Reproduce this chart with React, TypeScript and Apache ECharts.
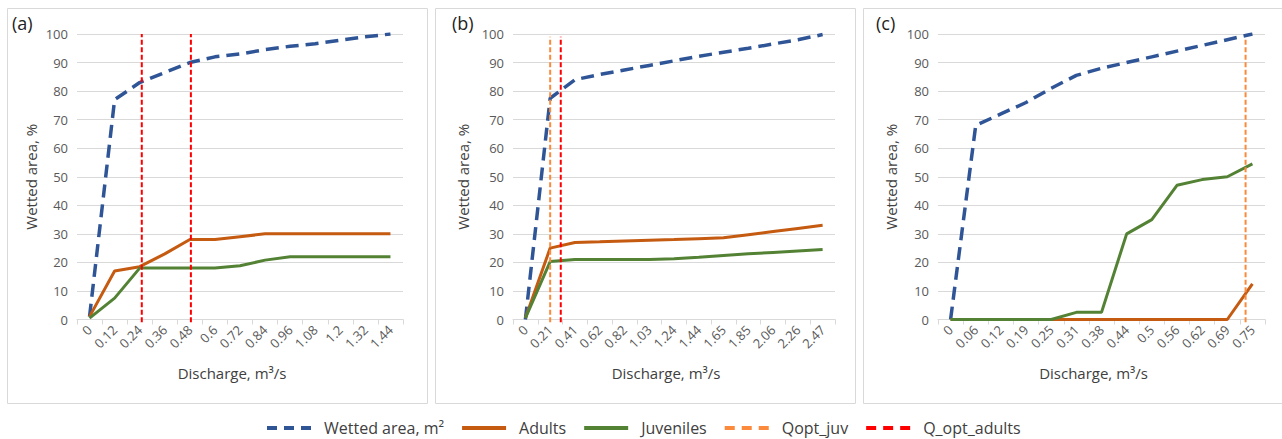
import React, { useEffect, useRef } from 'react';
import * as echarts from 'echarts';

// ---- data ----
const catsA = ['0', '0.12', '0.24', '0.36', '0.48', '0.6', '0.72', '0.84', '0.96', '1.08', '1.2', '1.32', '1.44'];
const wettedA = [1, 77, 83, 86.5, 90, 92, 93, 94.5, 95.7, 96.6, 97.8, 99, 100];
const adultsA = [1, 17, 18.5, 23, 28, 28, 29, 30, 30, 30, 30, 30, 30];
const juvA = [0.5, 7.5, 18, 18, 18, 18, 18.8, 20.8, 22, 22, 22, 22, 22];
const qJuvA: number[] = [];
const qAdultsA = [0.25, 0.485];

const catsB = ['0', '0.21', '0.41', '0.62', '0.82', '1.03', '1.24', '1.44', '1.65', '1.85', '2.06', '2.26', '2.47'];
const wettedB = [0, 77.5, 84, 85.8, 87.4, 89, 90.6, 92.2, 93.6, 95, 96.5, 98, 99.8];
const adultsB = [0.5, 25, 27, 27.2, 27.5, 27.8, 28, 28.3, 28.6, 29.7, 30.8, 31.9, 33];
const juvB = [0.5, 20.3, 21, 21, 21, 21, 21.3, 21.8, 22.4, 23, 23.5, 24, 24.5];
const qJuvB = [0.206];
const qAdultsB = [0.294];

const catsC = ['0', '0.06', '0.12', '0.19', '0.25', '0.31', '0.38', '0.44', '0.5', '0.56', '0.62', '0.69', '0.75'];
const wettedC = [0, 68, 72, 76, 81, 85.5, 88, 90, 92, 94, 96, 98, 100];
const adultsC = [0, 0, 0, 0, 0, 0, 0, 0, 0, 0, 0, 0, 12.5];
const juvC = [0, 0, 0, 0, 0, 2.5, 2.5, 30, 35, 47, 49, 50, 54.5];
const qJuvC = [0.733];
const qAdultsC: number[] = [];

const vTop = [100, 99, 98];
const vBottom = -1;

const panelLabels = ['(a)', '(b)', '(c)'];
const yTicks = [0, 100, 10];

// ---- layout / style ----
const FONT = 'Open Sans';
const C_WET = '#2f5597';
const C_AD = '#c55a11';
const C_JUV = '#548235';
const C_QJ = '#fb8a3c';
const C_QA = '#ff0000';

const panels = [
  { cats: catsA, wet: wettedA, ad: adultsA, juv: juvA, qj: qJuvA, qa: qAdultsA, left: 77, width: 326, frameX: 7, ygap: 39, labelX: 12 },
  { cats: catsB, wet: wettedB, ad: adultsB, juv: juvB, qj: qJuvB, qa: qAdultsB, left: 513, width: 322, frameX: 435, ygap: 43, labelX: 452 },
  { cats: catsC, wet: wettedC, ad: adultsC, juv: juvC, qj: qJuvC, qa: qAdultsC, left: 938, width: 327, frameX: 863, ygap: 40, labelX: 876 },
];

function buildOption() {
  const grids: any[] = [];
  const xAxes: any[] = [];
  const yAxes: any[] = [];
  const series: any[] = [];
  const graphics: any[] = [];

  panels.forEach((p, i) => {
    graphics.push({
      type: 'rect', z: -10, silent: true,
      shape: { x: p.frameX + 0.5, y: 8.5, width: 420, height: 395 },
      style: { fill: '#ffffff', stroke: '#d9d9d9', lineWidth: 1 },
    });
    graphics.push({
      type: 'text', left: p.labelX, top: 14,
      style: { text: panelLabels[i], font: `18px "${FONT}"`, fill: '#222222' },
    });

    grids.push({ left: p.left, top: 34, width: p.width, height: 285.5, containLabel: false });

    xAxes.push({
      type: 'category', gridIndex: i, data: p.cats, boundaryGap: true,
      name: 'Discharge, m³/s', nameLocation: 'middle', nameGap: 46,
      nameTextStyle: { fontFamily: FONT, fontSize: 15, color: '#404040', padding: [0, 16, 0, 0] },
      axisLine: { lineStyle: { color: '#d9d9d9', width: 1 } },
      axisTick: { show: true, length: 5, lineStyle: { color: '#d9d9d9' } },
      axisLabel: { rotate: 45, interval: 0, fontFamily: FONT, fontSize: 13, color: '#595959', margin: 8 },
      splitLine: { show: false },
    });

    const step = parseFloat(p.cats[p.cats.length - 1]) / (p.cats.length - 1);
    xAxes.push({
      type: 'value', gridIndex: i, show: false,
      min: -0.5 * step, max: (p.cats.length - 0.5) * step,
      splitLine: { show: false },
    });

    yAxes.push({
      type: 'value', gridIndex: i, min: yTicks[0], max: yTicks[1], interval: yTicks[2],
      name: 'Wetted area, %', nameLocation: 'middle', nameRotate: 90, nameGap: p.ygap,
      nameTextStyle: { fontFamily: FONT, fontSize: 15, color: '#404040' },
      axisLine: { show: false }, axisTick: { show: false },
      axisLabel: { fontFamily: FONT, fontSize: 13, color: '#595959', margin: 9 },
      splitLine: { lineStyle: { color: '#d9d9d9', width: 1 } },
    });

    const xi = i * 2;
    series.push({
      name: 'Wetted area, m²', type: 'line', xAxisIndex: xi, yAxisIndex: i, data: p.wet,
      symbol: 'none', lineStyle: { color: C_WET, width: 3.5, type: [13, 7] }, itemStyle: { color: C_WET }, z: 2,
    });
    series.push({
      name: 'Adults', type: 'line', xAxisIndex: xi, yAxisIndex: i, data: p.ad,
      symbol: 'none', lineStyle: { color: C_AD, width: 3 }, itemStyle: { color: C_AD }, z: 3,
    });
    series.push({
      name: 'Juveniles', type: 'line', xAxisIndex: xi, yAxisIndex: i, data: p.juv,
      symbol: 'none', lineStyle: { color: C_JUV, width: 3 }, itemStyle: { color: C_JUV }, z: 4,
    });
    p.qj.forEach((q) => {
      series.push({
        name: 'Qopt_juv', type: 'line', xAxisIndex: xi + 1, yAxisIndex: i, clip: false,
        data: [[q, vBottom], [q, vTop[i]]], symbol: 'none',
        lineStyle: { color: C_QJ, width: 2, type: [5, 2.5] }, itemStyle: { color: C_QJ }, z: 5,
      });
    });
    p.qa.forEach((q) => {
      series.push({
        name: 'Q_opt_adults', type: 'line', xAxisIndex: xi + 1, yAxisIndex: i, clip: false,
        data: [[q, vBottom], [q, vTop[i]]], symbol: 'none',
        lineStyle: { color: C_QA, width: 2, type: [5, 2.5] }, itemStyle: { color: C_QA }, z: 5,
      });
    });
  });

  return {
    animation: false,
    backgroundColor: '#ffffff',
    textStyle: { fontFamily: FONT },
    grid: grids,
    xAxis: xAxes,
    yAxis: yAxes,
    series,
    graphic: graphics,
    legend: {
      left: 260, top: 415, itemWidth: 44, itemHeight: 14, itemGap: 16,
      itemStyle: { opacity: 0 },
      textStyle: { fontFamily: FONT, fontSize: 16, color: '#404040', padding: [0, 0, 0, 8] },
      data: [
        { name: 'Wetted area, m²', lineStyle: { width: 4, type: [10, 7] } },
        { name: 'Adults', lineStyle: { width: 4 } },
        { name: 'Juveniles', lineStyle: { width: 4 } },
        { name: 'Qopt_juv', lineStyle: { width: 4, type: [10, 7] } },
        { name: 'Q_opt_adults', lineStyle: { width: 4, type: [10, 7] } },
      ],
    },
  };
}

export default function App() {
  const ref = useRef<HTMLDivElement>(null);
  useEffect(() => {
    const chart = echarts.init(ref.current!, null, { renderer: 'svg' });
    chart.setOption(buildOption() as any);
    return () => chart.dispose();
  }, []);
  return (
    <div
      ref={ref}
      style={{ position: 'absolute', left: 0, top: 0, width: 1282, height: 439, background: '#ffffff' }}
    />
  );
}
